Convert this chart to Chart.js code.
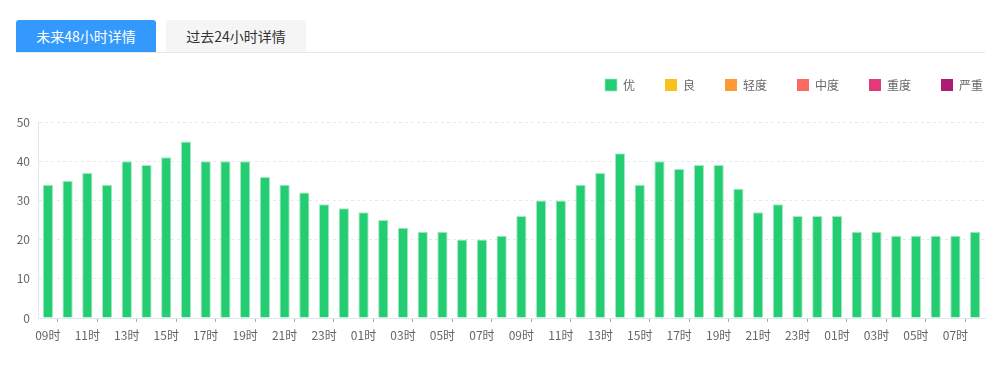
<!DOCTYPE html>
<html>
<head>
<meta charset="utf-8">
<script src="https://cdn.jsdelivr.net/npm/chart.js@4"></script>
<style>
  html, body { margin: 0; padding: 0; background: #fff; }
  body { width: 1000px; height: 366px; position: relative; overflow: hidden; font-family: 'Noto Sans CJK SC', sans-serif; }
  .tabs { position: absolute; left: 16px; top: 20px; width: 969px; height: 32px; border-bottom: 1px solid #e8e8e8; }
  .tab { position: absolute; top: 0; height: 32px; width: 140px; line-height: 32px; text-align: center; font-size: 14px; border-radius: 3px 3px 0 0; }
  .tab.active { left: 0; background: #3499fd; color: #fff; }
  .tab.normal { left: 150px; background: #f5f5f5; color: #333; }
  #wrap { position: absolute; left: 0; top: 0; width: 1000px; height: 366px; }
</style>
</head>
<body>
<div class="tabs">
  <div class="tab active">未来48小时详情</div>
  <div class="tab normal">过去24小时详情</div>
</div>
<div id="wrap"><canvas id="c" width="1000" height="366"></canvas></div>
<script>
const categories = ['09时','10时','11时','12时','13时','14时','15时','16时','17时','18时','19时','20时','21时','22时','23时','00时','01时','02时','03时','04时','05时','06时','07时','08时',
                    '09时','10时','11时','12时','13时','14时','15时','16时','17时','18时','19时','20时','21时','22时','23时','00时','01时','02时','03时','04时','05时','06时','07时','08时'];
const aqiValues = [34,35,37,34,40,39,41,45,40,40,40,36,34,32,29,28,27,25,23,22,22,20,20,21,
                   26,30,30,34,37,42,34,40,38,39,39,33,27,29,26,26,26,22,22,21,21,21,21,22];
const levelNames = ['优','良','轻度','中度','重度','严重'];
const levelColors = ['#24cc72','#f8c11c','#fd9a35','#f96b62','#e3397b','#ad1c70'];
const yTicks = [0,10,20,30,40,50];

const datasets = levelNames.map((name, i) => ({
  label: name,
  data: i === 0 ? aqiValues : [],
  backgroundColor: levelColors[i],
  borderColor: i === 0 ? '#a4eac4' : levelColors[i],
  borderWidth: i === 0 ? {top: 1, left: 1, right: 1, bottom: 0} : 0,
  borderSkipped: 'bottom',
  grouped: false,
  categoryPercentage: 1,
  barPercentage: 0.52
}));

const shiftLegend = {
  id: 'shiftLegend',
  afterLayout(chart) {
    const lg = chart.legend;
    const dx = 28, dy = -21;
    lg.left += dx; lg.right += dx; lg.top += dy; lg.bottom += dy;
  }
};

Chart.defaults.font.family = "'Noto Sans CJK SC', sans-serif";
Chart.defaults.font.size = 12;
Chart.defaults.color = '#666';

new Chart(document.getElementById('c'), {
  type: 'bar',
  data: { labels: categories, datasets },
  plugins: [shiftLegend],
  options: {
    responsive: false,
    animation: false,
    layout: { padding: { top: 70, right: 15, bottom: 0, left: 0 } },
    plugins: {
      legend: {
        position: 'top',
        align: 'end',
        labels: { boxWidth: 12, boxHeight: 12, padding: 30, color: '#666', font: { size: 12 } }
      },
      tooltip: { enabled: false }
    },
    scales: {
      x: {
        offset: true,
        afterFit: s => { s.height = 48; },
        grid: {
          offset: true,
          drawOnChartArea: false,
          drawTicks: true,
          tickLength: 4,
          color: ctx => (ctx.index % 2 === 1 ? '#aaaaaa' : 'rgba(0,0,0,0)')
        },
        border: { display: true, color: '#dfe6ee', width: 1 },
        ticks: {
          autoSkip: false,
          maxRotation: 0,
          padding: 6,
          color: '#666',
          font: { size: 12 },
          callback: function(v, i) { return i % 2 === 0 ? categories[i] : ''; }
        }
      },
      y: {
        min: 0,
        max: 50,
        afterFit: s => { s.width = 38; },
        afterBuildTicks: s => { s.ticks = yTicks.map(v => ({ value: v })); },
        grid: { color: '#e4eaf0', drawTicks: false, lineWidth: 1 },
        border: { display: true, color: '#dfe6ee', dash: [3, 3] },
        ticks: { padding: 8, color: '#666', font: { size: 12 } }
      }
    }
  }
});
</script>
</body>
</html>
